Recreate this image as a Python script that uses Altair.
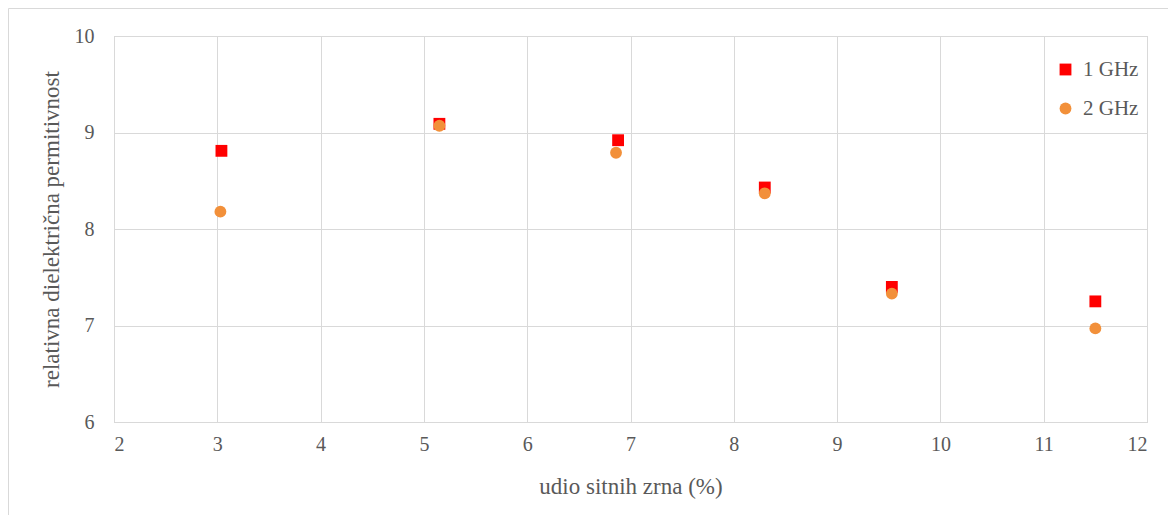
import altair as alt
import pandas as pd

x_1ghz = [3.04, 5.15, 6.88, 8.30, 9.53, 11.50]
y_1ghz = [8.81, 9.09, 8.92, 8.43, 7.40, 7.25]
x_2ghz = [3.03, 5.15, 6.86, 8.30, 9.53, 11.50]
y_2ghz = [8.18, 9.07, 8.79, 8.37, 7.33, 6.97]
series = ["1 GHz", "2 GHz"]
colors = ["#ff0000", "#f2903a"]
x_ticks = [2, 3, 4, 5, 6, 7, 8, 9, 10, 11, 12]
y_ticks = [6, 7, 8, 9, 10]

rows = []
for xv, yv in zip(x_1ghz, y_1ghz):
    rows.append({"x": xv, "y": yv, "s": series[0]})
for xv, yv in zip(x_2ghz, y_2ghz):
    rows.append({"x": xv, "y": yv, "s": series[1]})
df = pd.DataFrame(rows)

FONT = "Liberation Serif"
W, H = 1033, 386

legend_cfg = dict(title=None, orient="none", legendX=941, legendY=23,
                  labelFont=FONT, labelFontSize=21, labelColor="#595959",
                  symbolSize=140, rowPadding=17, labelOffset=7,
                  padding=0, symbolStrokeWidth=0)

points = alt.Chart(df).mark_point(filled=True, size=140, opacity=1).encode(
    x=alt.X("x:Q", scale=alt.Scale(domain=[2, 12], nice=False),
            axis=alt.Axis(values=x_ticks, title="udio sitnih zrna (%)", grid=True,
                          gridColor="#d9d9d9", domain=False, ticks=False,
                          labelFont=FONT, labelFontSize=20, labelColor="#595959",
                          labelPadding=12, titleFont=FONT, titleFontSize=23,
                          titleFontWeight="normal", titleColor="#595959", titlePadding=21)),
    y=alt.Y("y:Q", scale=alt.Scale(domain=[6, 10], nice=False),
            axis=alt.Axis(values=y_ticks, title="relativna dielektrična  permitivnost", grid=True,
                          gridColor="#d9d9d9", domain=False, ticks=False,
                          labelFont=FONT, labelFontSize=20, labelColor="#595959",
                          labelPadding=20, titleFont=FONT, titleFontSize=23,
                          titleFontWeight="normal", titleColor="#595959", titlePadding=11)),
    color=alt.Color("s:N", scale=alt.Scale(domain=series, range=colors),
                    legend=alt.Legend(**legend_cfg)),
    shape=alt.Shape("s:N", scale=alt.Scale(domain=series, range=["square", "circle"]),
                    legend=alt.Legend(**legend_cfg)),
    order=alt.Order("s:N"),
)

frame = alt.Chart(pd.DataFrame({"a": [0]})).mark_rule(color="#d9d9d9", strokeWidth=1, clip=False).encode(
    x=alt.value(-105.5), x2=alt.value(W + 40), y=alt.value(-27.5), y2=alt.value(-27.5)
)
frame_left = alt.Chart(pd.DataFrame({"a": [0]})).mark_rule(color="#d9d9d9", strokeWidth=1, clip=False).encode(
    x=alt.value(-105.5), x2=alt.value(-105.5), y=alt.value(-27.5), y2=alt.value(H + 120)
)

chart = alt.layer(frame, frame_left, points).properties(
    width=W, height=H,
    autosize=alt.AutoSizeParams(type="none"),
    padding={"left": 106, "top": 28, "right": 21, "bottom": 93},
    background="white",
).configure_view(stroke="#c8c8c8", strokeWidth=1)

chart.save("out.html", embed_options={"renderer": "svg", "actions": False})
